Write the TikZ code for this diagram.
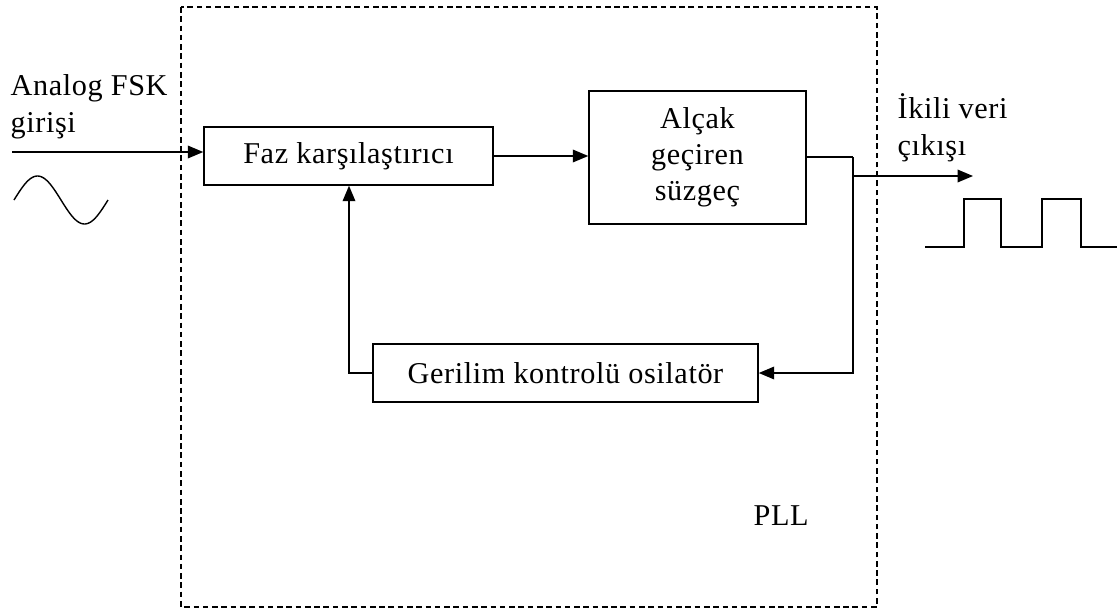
\documentclass[tikz,border=0pt]{standalone}
\usepackage{fontspec}
\setmainfont{Liberation Serif}[LetterSpace=2]
\usetikzlibrary{arrows.meta}
\begin{document}
\begin{tikzpicture}[x=0.025cm,y=-0.025cm,
  line width=1pt,
  txt/.style={font=\fontsize{21.5}{25.5}\selectfont, inner sep=0pt},
  blockbox/.style={draw, rectangle, inner sep=0pt, font=\fontsize{21.5}{25.5}\selectfont, align=center},
  arr/.style={-{Triangle[length=11pt,width=9pt]}},
  pllframe/.style={draw, dash pattern=on 4pt off 2.6pt}]
\useasboundingbox (0,0) rectangle (1120,612);

% PLL boundary
\draw[pllframe] (181,7) rectangle (877,607);
\node[txt, anchor=base west] (pll) at (753,525) {PLL};

% blocks
\node[blockbox, minimum width=7.225cm, minimum height=1.45cm] (faz) at (348.5,156) {Faz karşılaştırıcı};
\node[blockbox, minimum width=5.425cm, minimum height=3.325cm] (lpf) at (697.5,157.5) {Alçak\\geçiren\\süzgeç};
\node[blockbox, minimum width=9.625cm, minimum height=1.45cm] (vco) at (565.5,373) {Gerilim kontrolü osilatör};

% input
\node[txt, anchor=base west] (inlab1) at (10,95) {Analog FSK};
\node[txt, anchor=base west] (inlab2) at (10,132) {girişi};
\coordinate (inL) at (12,152);
\draw[arr] (inL) -- (inL -| faz.west);
\draw plot[domain=0:360, samples=72, smooth] ({14+\x/360*94},{200-24*sin(\x)});

% forward path
\draw[arr] (faz.east) -- (faz.east -| lpf.west);

% output and feedback split
\coordinate (j1) at (853,157);
\coordinate (j2) at (853,176);
\coordinate (outE) at (973,176);
\draw (lpf.east |- j1) -- (j1);
\draw[arr] (j1) |- (vco.east);
\draw[arr] (j2) -- (outE);
\node[txt, anchor=base west] (outlab1) at (897,118) {İkili veri};
\node[txt, anchor=base west] (outlab2) at (897,155) {çıkışı};
\draw (925,247) -- (964,247) -- (964,199) -- (1001,199) -- (1001,247)
      -- (1042,247) -- (1042,199) -- (1081,199) -- (1081,247) -- (1117,247);

% feedback to phase comparator
\coordinate (fb) at (349,373);
\draw[arr] (vco.west) -- (fb) -- (fb |- faz.south);
\end{tikzpicture}
\end{document}
